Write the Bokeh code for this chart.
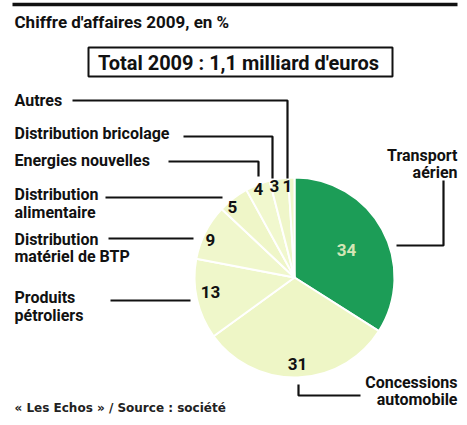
import math
from bokeh.plotting import figure
from bokeh.models import Range1d, ColumnDataSource
from bokeh.core.properties import value
from bokeh.embed import file_html
from bokeh.resources import INLINE

# ---- data ----
categories = ["Transport aérien", "Concessions automobile", "Produits pétroliers",
              "Distribution matériel de BTP", "Distribution alimentaire",
              "Energies nouvelles", "Distribution bricolage", "Autres"]
shares = [34, 31, 13, 9, 5, 4, 3, 1]
title_text = "Chiffre d'affaires 2009, en %"
total_text = "Total 2009 : 1,1 milliard d'euros"
source_text = "« Les Echos » / Source : société"

# ---- layout ----
W, H = 459, 417
def Y(ys):  # picture y -> data y
    return H - ys

FONT = "Roboto"
p = figure(width=W, height=H, output_backend="svg", toolbar_location=None,
           x_range=Range1d(0, W), y_range=Range1d(0, H), min_border=0)
p.axis.visible = False
p.grid.visible = False
p.outline_line_color = None
p.background_fill_color = "white"

# pie
cx, cy, r = 294, Y(277), 100
colors = ["#1c9d57", "#eef6c6", "#eff7ca", "#f0f7cc", "#eff6c8", "#f1f8ce", "#eff6c9", "#f0f7cb"]
starts, ends = [], []
cum = 0
for v in shares:
    starts.append(math.pi / 2 - cum / 100 * 2 * math.pi)
    cum += v
    ends.append(math.pi / 2 - cum / 100 * 2 * math.pi)
src = ColumnDataSource(dict(start=starts, end=ends, color=colors, cat=categories, val=shares))
p.wedge(x=cx, y=cy, radius=r, start_angle="start", end_angle="end", direction="clock",
        fill_color="color", line_color="white", line_width=2, source=src)

# value labels (positions are layout)
num_x = [346, 297, 210, 210, 232, 258, 274, 287]
num_y = [249, 363, 291, 239, 206, 188, 185, 185]
num_col = ["#d3e6b6"] + ["#111111"] * 7
p.text(x=num_x, y=[Y(v) for v in num_y], text=[str(v) for v in shares],
       text_font=value(FONT), text_font_style="bold", text_font_size="17px",
       text_align="center", text_baseline="middle", text_color=num_col)

# category labels
LBL = "16px"
left_lines = [("Autres", 100), ("Distribution bricolage", 133), ("Energies nouvelles", 160),
              ("Distribution", 194), ("alimentaire", 212),
              ("Distribution", 239), ("matériel de BTP", 256),
              ("Produits", 297), ("pétroliers", 315)]
p.text(x=[14] * len(left_lines), y=[Y(t[1]) for t in left_lines], text=[t[0] for t in left_lines],
       text_font=value(FONT), text_font_style="bold", text_font_size=LBL,
       text_align="left", text_baseline="middle", text_color="#111111")
right_lines = [("Transport", 155), ("aérien", 172), ("Concessions", 382), ("automobile", 399)]
p.text(x=[457] * len(right_lines), y=[Y(t[1]) for t in right_lines], text=[t[0] for t in right_lines],
       text_font=value(FONT), text_font_style="bold", text_font_size=LBL,
       text_align="right", text_baseline="middle", text_color="#111111")

# leader lines
leaders = [
    [(72, 100), (287, 100), (287, 178)],
    [(183, 136), (272, 136), (272, 178)],
    [(168, 161), (258, 161), (258, 176)],
    [(105, 197), (222, 197)],
    [(108, 238), (193, 238)],
    [(110, 300), (190, 300)],
    [(298, 384), (298, 395), (360, 395)],
    [(443, 180), (443, 245), (396, 245)],
]
p.multi_line(xs=[[pt[0] for pt in l] for l in leaders], ys=[[Y(pt[1]) for pt in l] for l in leaders],
             line_color="#111111", line_width=2.2)

# top rule
p.line(x=[12, 457], y=[Y(4), Y(4)], line_color="#111111", line_width=3.5)

# title
p.text(x=[14], y=[Y(21)], text=[title_text], text_font=value(FONT), text_font_style="bold",
       text_font_size="17px", text_baseline="middle", text_color="#111111")

# total box
p.quad(left=[88], right=[392], top=[Y(47)], bottom=[Y(76)], fill_color=None,
       line_color="#111111", line_width=2)
p.text(x=[238], y=[Y(62)], text=[total_text], text_font=value(FONT), text_font_style="bold",
       text_font_size="20px", text_align="center", text_baseline="middle", text_color="#111111")

# source
p.text(x=[14], y=[Y(407)], text=[source_text], text_font=value("DejaVu Sans"),
       text_font_style="bold", text_font_size="12px", text_baseline="middle", text_color="#222222")

open("out.html", "w").write(file_html(p, INLINE))
